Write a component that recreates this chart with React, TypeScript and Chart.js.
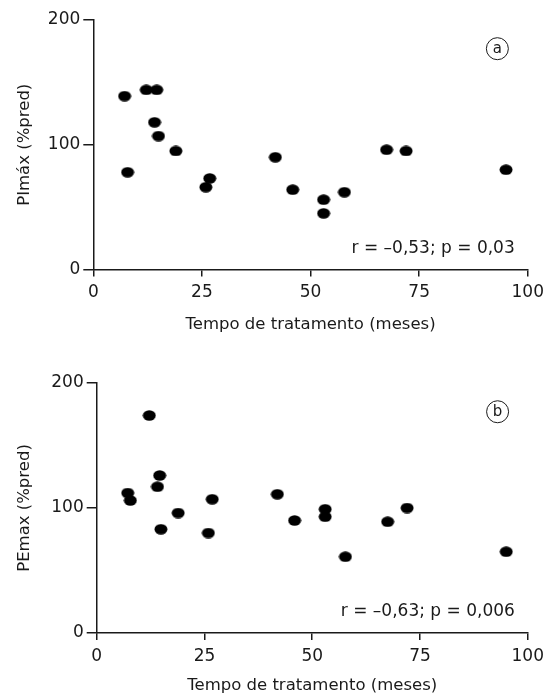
import { useEffect, useRef } from "react";
import { Chart, registerables } from "chart.js";

Chart.register(...registerables);

// ---------- data ----------
const xTickValues = [0, 25, 50, 75, 100];
const yTickValues = [0, 100, 200];
const xAxisTitle = "Tempo de tratamento (meses)";

const pimaxMonths = [7.2, 7.9, 12.2, 14.6, 14.1, 15.0, 19.0, 25.9, 26.8, 41.9, 45.9, 53.0, 53.0, 57.8, 67.5, 72.0, 95.0];
const pimaxValues = [139, 78, 144, 144, 118, 107, 95, 66, 73, 90, 64, 56, 45, 62, 96, 95, 80];

const pemaxMonths = [12.2, 7.2, 7.8, 14.6, 14.1, 14.9, 18.9, 26.8, 25.9, 41.9, 45.9, 53.0, 53.0, 57.7, 67.5, 72.0, 95.0];
const pemaxValues = [174, 112, 106, 126, 117, 83, 96, 107, 80, 111, 90, 99, 93, 61, 89, 100, 65];

const panelLetters = ["a", "b"];
const panelStats = ["r = \u20130,53; p = 0,03", "r = \u20130,63; p = 0,006"];
const panelYTitles = ["PImáx (%pred)", "PEmax (%pred)"];

const FONT = "'DejaVu Sans', sans-serif";
const INK = "#1a1a1a";

const annotPlugin = {
  id: "panelAnnot",
  afterDatasetsDraw(chart: any, _args: any, opts: any) {
    const { ctx, scales } = chart;
    const x = scales.x;
    const y = scales.y;
    ctx.save();
    ctx.fillStyle = INK;
    ctx.strokeStyle = INK;
    const cx = x.getPixelForValue(opts.letterX);
    const cy = y.getPixelForValue(opts.letterY);
    ctx.beginPath();
    ctx.arc(cx, cy, opts.radius, 0, Math.PI * 2);
    ctx.lineWidth = 1;
    ctx.stroke();
    ctx.font = `15px ${FONT}`;
    ctx.textAlign = "center";
    ctx.textBaseline = "middle";
    ctx.fillText(opts.letter, cx, cy);
    ctx.textAlign = "right";
    ctx.font = `17px ${FONT}`;
    ctx.fillText(opts.stat, x.getPixelForValue(opts.statX), y.getPixelForValue(opts.statY));
    ctx.restore();
  },
};

function makeDot() {
  const c = document.createElement("canvas");
  c.width = 14;
  c.height = 11;
  const g = c.getContext("2d")!;
  g.fillStyle = "#000";
  g.beginPath();
  g.ellipse(7, 5.5, 6.5, 5.2, 0, 0, Math.PI * 2);
  g.fill();
  return c;
}

type PanelProps = {
  idx: number;
  months: number[];
  values: number[];
  top: number;
  plotLeft: number;
  plotRight: number;
  plotTop: number;
  plotBottom: number;
  xTitlePad: number;
};

const W = 550;
const H = 349;

function Panel(p: PanelProps) {
  const ref = useRef<HTMLCanvasElement | null>(null);
  useEffect(() => {
    if (!ref.current) return;
    const dot = makeDot();
    const tickFont = { family: FONT, size: 17 };
    const titleFont = { family: FONT, size: 16.5 };
    const chart = new Chart(ref.current, {
      type: "scatter",
      data: {
        datasets: [
          {
            data: p.months.map((m, i) => ({ x: m, y: p.values[i] })),
            pointStyle: dot as any,
            backgroundColor: "#000",
            borderColor: "#000",
          },
        ],
      },
      options: {
        responsive: false,
        animation: false,
        layout: {
          padding: { left: 0, top: p.plotTop, right: W - p.plotRight, bottom: 0 },
        },
        plugins: {
          legend: { display: false },
          tooltip: { enabled: false },
          panelAnnot: {
            letter: panelLetters[p.idx],
            stat: panelStats[p.idx],
            letterX: 93,
            letterY: 177,
            radius: 11,
            statX: 97,
            statY: 17,
          },
        } as any,
        scales: {
          x: {
            type: "linear",
            min: 0,
            max: 100,
            afterBuildTicks: (s: any) => {
              s.ticks = xTickValues.map((v) => ({ value: v }));
            },
            afterFit: (s: any) => {
              s.height = H - p.plotBottom;
            },
            grid: { drawOnChartArea: false, drawTicks: true, tickLength: 7, color: INK, lineWidth: 1.5 },
            border: { display: true, color: INK, width: 1.5 },
            ticks: { color: INK, font: tickFont, padding: 6, maxRotation: 0 },
            title: {
              display: true,
              text: xAxisTitle,
              color: INK,
              font: titleFont,
              padding: { top: 0, bottom: p.xTitlePad },
            },
          },
          y: {
            type: "linear",
            min: 0,
            max: 200,
            afterBuildTicks: (s: any) => {
              s.ticks = yTickValues.map((v) => ({ value: v }));
            },
            afterFit: (s: any) => {
              s.width = p.plotLeft;
            },
            grid: { drawOnChartArea: false, drawTicks: true, tickLength: 10, color: INK, lineWidth: 1.5 },
            border: { display: true, color: INK, width: 1.5 },
            ticks: { color: INK, font: tickFont, padding: 3 },
            title: {
              display: true,
              text: panelYTitles[p.idx],
              color: INK,
              font: titleFont,
              padding: { top: 15, bottom: 0 },
            },
          },
        },
      },
      plugins: [annotPlugin],
    });
    return () => chart.destroy();
  }, []);
  return (
    <div style={{ position: "absolute", left: 0, top: p.top, width: W, height: H }}>
      <canvas ref={ref} width={W} height={H} style={{ width: W, height: H, display: "block" }} />
    </div>
  );
}

export default function App() {
  return (
    <div style={{ position: "relative", width: W, height: 698 }}>
      <div style={{ position: "fixed", left: 0, top: 0, width: W, height: 698, background: "#fff" }}>
        <Panel idx={0} months={pimaxMonths} values={pimaxValues} top={0} plotLeft={93.3} plotRight={530.7} plotTop={20} plotBottom={269.5} xTitlePad={14} />
        <Panel idx={1} months={pemaxMonths} values={pemaxValues} top={349} plotLeft={96.7} plotRight={534} plotTop={34} plotBottom={284} xTitlePad={2} />
      </div>
    </div>
  );
}
